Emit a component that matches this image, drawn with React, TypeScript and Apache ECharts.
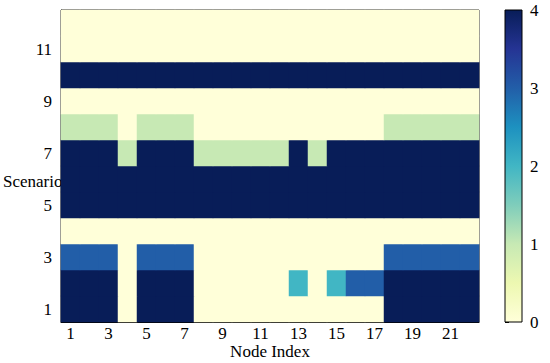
import React, { useEffect, useRef } from "react";
import * as echarts from "echarts";

const nodeIndex: string[] = Array.from({ length: 22 }, (_, i) => String(i + 1));
const scenarios: string[] = Array.from({ length: 12 }, (_, i) => String(i + 1));

const row1 = [4, 4, 4, 0, 4, 4, 4, 0, 0, 0, 0, 0, 0, 0, 0, 0, 0, 4, 4, 4, 4, 4];
const row2 = [4, 4, 4, 0, 4, 4, 4, 0, 0, 0, 0, 0, 2, 0, 2, 3, 3, 4, 4, 4, 4, 4];
const row3 = [3, 3, 3, 0, 3, 3, 3, 0, 0, 0, 0, 0, 0, 0, 0, 0, 0, 3, 3, 3, 3, 3];
const row4 = [0, 0, 0, 0, 0, 0, 0, 0, 0, 0, 0, 0, 0, 0, 0, 0, 0, 0, 0, 0, 0, 0];
const row5 = [4, 4, 4, 4, 4, 4, 4, 4, 4, 4, 4, 4, 4, 4, 4, 4, 4, 4, 4, 4, 4, 4];
const row6 = [4, 4, 4, 4, 4, 4, 4, 4, 4, 4, 4, 4, 4, 4, 4, 4, 4, 4, 4, 4, 4, 4];
const row7 = [4, 4, 4, 1, 4, 4, 4, 1, 1, 1, 1, 1, 4, 1, 4, 4, 4, 4, 4, 4, 4, 4];
const row8 = [1, 1, 1, 0, 1, 1, 1, 0, 0, 0, 0, 0, 0, 0, 0, 0, 0, 1, 1, 1, 1, 1];
const row9 = [0, 0, 0, 0, 0, 0, 0, 0, 0, 0, 0, 0, 0, 0, 0, 0, 0, 0, 0, 0, 0, 0];
const row10 = [4, 4, 4, 4, 4, 4, 4, 4, 4, 4, 4, 4, 4, 4, 4, 4, 4, 4, 4, 4, 4, 4];
const row11 = [0, 0, 0, 0, 0, 0, 0, 0, 0, 0, 0, 0, 0, 0, 0, 0, 0, 0, 0, 0, 0, 0];
const row12 = [0, 0, 0, 0, 0, 0, 0, 0, 0, 0, 0, 0, 0, 0, 0, 0, 0, 0, 0, 0, 0, 0];

const rows = [row1, row2, row3, row4, row5, row6, row7, row8, row9, row10, row11, row12];

const palette = [
  "#ffffd9", "#edf8b1", "#c7e9b4", "#7fcdbb", "#41b6c4",
  "#1d91c0", "#225ea8", "#253494", "#081d58",
];

const FONT = "Liberation Serif";

export default function App() {
  const ref = useRef<HTMLDivElement>(null);
  useEffect(() => {
    if (!ref.current) return;
    const chart = echarts.init(ref.current, null, { renderer: "svg" });
    const data: number[][] = [];
    rows.forEach((r, y) => r.forEach((v, x) => data.push([x, y, v])));

    const txt = { color: "#000", fontFamily: FONT, fontSize: 17, lineHeight: 17 };
    const cbLeft = 505, cbTop = 10, cbW = 17, cbH = 312;

    chart.setOption({
      animation: false,
      backgroundColor: "#fff",
      grid: [
        { left: 61, top: 10, width: 418, height: 312, show: true, borderColor: "#000", borderWidth: 1, backgroundColor: "transparent", outerBoundsMode: "none", containLabel: false },
        { left: cbLeft, top: cbTop, width: cbW, height: cbH, show: false, outerBoundsMode: "none", containLabel: false },
      ],
      xAxis: [
        {
          type: "category", data: nodeIndex, gridIndex: 0,
          name: "Node Index", nameLocation: "middle", nameGap: 21, nameMoveOverlap: false,
          nameTextStyle: { ...txt },
          axisLine: { lineStyle: { color: "#000" } },
          axisTick: { inside: true, length: 4, alignWithLabel: true, interval: 1, lineStyle: { color: "#000" } },
          axisLabel: { ...txt, interval: 1, margin: 3 },
          splitLine: { show: false },
        },
        { type: "value", gridIndex: 1, show: false, min: 0, max: 1 },
      ],
      yAxis: [
        {
          type: "category", data: scenarios, gridIndex: 0,
          axisLine: { lineStyle: { color: "#000" } },
          axisTick: { inside: true, length: 4, alignWithLabel: true, interval: 1, lineStyle: { color: "#000" } },
          axisLabel: { ...txt, interval: 1, margin: 9 },
          splitLine: { show: false },
        },
        {
          type: "value", gridIndex: 1, position: "right", min: 0, max: 4, interval: 1,
          axisLine: { show: false },
          axisTick: { show: true, inside: false, length: 4, lineStyle: { color: "#000" } },
          axisLabel: { ...txt, margin: 8 },
          splitLine: { show: false },
        },
      ],
      visualMap: {
        show: false, type: "continuous", min: 0, max: 4, seriesIndex: 0,
        inRange: { color: palette },
      },
      graphic: [
        {
          type: "text", z: 0, x: 3, y: 181,
          style: { text: "Scenario", fill: "#000", font: `17px "${FONT}"`, textVerticalAlign: "middle", verticalAlign: "middle" },
        },
        {
          type: "rect", z: 10,
          shape: { x: cbLeft, y: cbTop, width: cbW, height: cbH },
          style: {
            fill: new echarts.graphic.LinearGradient(0, 1, 0, 0,
              palette.map((c, i) => ({ offset: i / (palette.length - 1), color: c }))),
            stroke: "#000", lineWidth: 1,
          },
        },
      ],
      series: [
        {
          type: "heatmap", xAxisIndex: 0, yAxisIndex: 0, data, z: 5,
          itemStyle: { borderWidth: 0 },
          emphasis: { disabled: true },
        },
        { type: "line", xAxisIndex: 1, yAxisIndex: 1, data: [], silent: true },
      ],
    });
    return () => chart.dispose();
  }, []);
  return <div ref={ref} style={{ position: "absolute", left: 0, top: 0, width: 550, height: 363 }} />;
}
